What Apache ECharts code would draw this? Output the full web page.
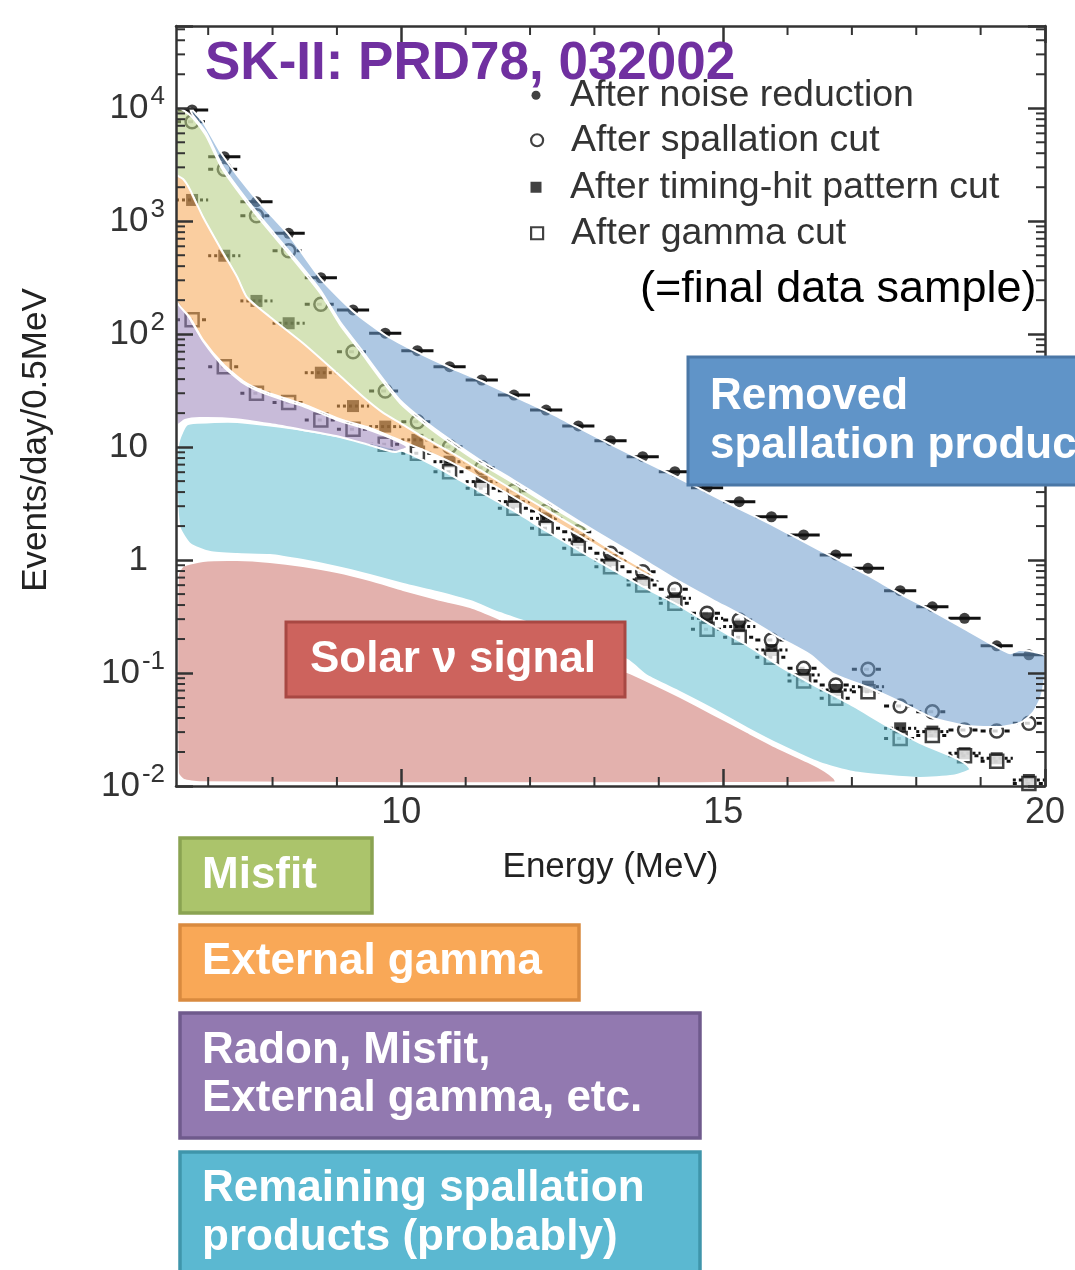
<!DOCTYPE html>
<html><head><meta charset="utf-8">
<script src="https://cdn.jsdelivr.net/npm/echarts@6/dist/echarts.min.js"></script>
<style>html,body{margin:0;padding:0;background:#fff;}#c{width:1075px;height:1270px;}</style>
</head><body><div id="c"></div>
<script>
// ---------- data ----------
const energies = [6.75,7.25,7.75,8.25,8.75,9.25,9.75,10.25,10.75,11.25,11.75,12.25,12.75,13.25,13.75,14.25,14.75,15.25,15.75,16.25,16.75,17.25,17.75,18.25,18.75,19.25,19.75];
const binHalfWidth = 0.25;
const noiseReduction = [9660,3730,1490,782,316,164,102,71.4,51.5,39.3,28.9,21.3,15.4,11.4,8.23,6.06,4.38,3.29,2.42,1.67,1.11,0.845,0.536,0.386,0.305,0.174,0.145];
const spallationCut = [7600,2884,1120,548,184,70,31.4,16.8,10.1,6.58,4.11,2.72,1.78,1.15,0.789,0.551,0.338,0.295,0.196,0.110,0.0783,0.108,0.051,0.0455,0.0313,0.0307,0.0359];
const timingHitCut = [1543,495,197,125,45.6,23.1,15.2,11.6,7.43,4.95,3.29,2.34,1.51,1.0,0.667,0.459,0.305,0.258,0.16,0.0962,0.0708,0.0757,0.0324,0.0303,0.0195,0.0176,0.0113];
const gammaCut = [134,51.5,30,24.8,17.4,14.4,10.6,8.83,6.07,4.32,2.87,1.91,1.27,0.875,0.603,0.414,0.244,0.207,0.138,0.085,0.0597,0.0684,0.0264,0.028,0.0185,0.0166,0.0105];

const xTickLabels = [10,15,20];
const xMinorTicks = [7,8,9,11,12,13,14,16,17,18,19];
const yMinorTicks = [0.02,0.03,0.04,0.05,0.06,0.07,0.08,0.09,0.2,0.3,0.4,0.5,0.6,0.7,0.8,0.9,2,3,4,5,6,7,8,9,20,30,40,50,60,70,80,90,200,300,400,500,600,700,800,900,2000,3000,4000,5000,6000,7000,8000,9000,20000,30000,40000,50000];

// hand-drawn background regions, [energy, events] outlines
const bandRemovedSpallation = [[6.72,10060],[6.92,7570],[7.23,3780],[7.76,1540],[8.24,771],[8.74,314],[9.25,160],[9.75,98.4],[10.24,69.6],[10.74,51.2],[11.25,38.5],[11.74,28.4],[12.25,20.9],[12.73,15.1],[13.24,10.7],[13.74,7.69],[14.25,5.55],[14.73,4.01],[15.23,2.89],[15.73,2.09],[16.23,1.48],[16.74,1.04],[17.24,0.738],[17.73,0.511],[18.23,0.361],[18.73,0.25],[19.22,0.174],[19.46,0.15],[19.61,0.16],[19.92,0.15],[20.0,0.142],[20.0,0.0961],[19.94,0.0614],[19.81,0.0443],[19.61,0.0361],[19.30,0.0333],[18.79,0.034],[18.26,0.04],[17.75,0.0554],[17.24,0.0752],[16.71,0.0982],[16.35,0.145],[15.88,0.204],[15.37,0.307],[14.84,0.443],[14.33,0.64],[13.82,0.962],[13.29,1.45],[12.78,2.17],[12.26,3.34],[11.74,5.12],[11.22,7.69],[10.76,11.6],[10.34,17.4],[9.98,26.1],[9.67,43.5],[9.36,75.4],[9.05,128],[8.74,246],[8.24,557],[7.76,1183],[7.23,3023],[6.97,6046],[6.75,8905]];
const bandMisfit = [[6.52,10060],[6.75,8375],[6.97,5685],[7.23,2843],[7.76,1113],[8.24,524],[8.74,232],[9.05,121],[9.36,71.0],[9.67,40.9],[9.98,24.6],[10.34,16.4],[10.76,10.9],[11.22,7.24],[11.74,4.82],[12.26,3.14],[12.78,2.09],[12.93,1.85],[12.78,1.81],[12.26,2.72],[11.74,4.09],[11.22,6.15],[10.76,8.87],[10.34,12.0],[9.98,16.0],[9.72,19.7],[9.41,27.2],[9.00,44.4],[8.47,81.9],[7.96,139],[7.60,209],[7.45,314],[7.18,580],[6.92,1069],[6.72,1853],[6.61,2318],[6.52,2516]];
const bandExternalGamma = [[6.50,2516],[6.61,2366],[6.72,1891],[6.92,1090],[7.18,592],[7.45,321],[7.60,213],[7.96,142],[8.47,83.6],[9.00,45.3],[9.41,27.8],[9.72,20.1],[9.98,16.4],[10.34,12.3],[10.76,9.06],[11.22,6.28],[11.74,4.17],[12.26,2.78],[12.78,1.85],[13.29,1.20],[13.79,0.818],[14.02,0.666],[13.79,0.753],[13.29,1.09],[12.78,1.63],[12.26,2.41],[11.74,3.62],[11.22,5.33],[10.76,7.39],[10.34,9.43],[9.90,12.0],[9.51,14.8],[9.05,17.7],[8.47,24.1],[8.22,26.7],[7.85,31.4],[7.54,38.5],[7.23,54.5],[6.92,88.8],[6.72,139],[6.50,201]];
const bandRadon = [[6.52,201],[6.72,136],[6.92,87.1],[7.23,52.3],[7.54,37.0],[7.85,30.2],[8.22,25.6],[8.47,23.1],[9.05,17.0],[9.51,14.2],[9.90,11.6],[10.09,10.0],[9.90,9.06],[9.51,10.4],[9.05,12.3],[8.47,14.2],[7.96,16.0],[7.43,17.7],[6.87,18.1],[6.64,17.4],[6.52,15.7]];
const bandRemainingSpallation = [[6.52,8.52],[6.55,11.6],[6.66,15.7],[6.83,16.4],[7.45,16.7],[8.47,14.2],[9.51,10.9],[10.03,9.24],[10.55,6.67],[11.07,4.53],[11.74,2.75],[12.26,1.80],[12.78,1.20],[13.29,0.818],[13.82,0.555],[14.33,0.392],[14.84,0.261],[15.37,0.177],[15.88,0.115],[16.35,0.0816],[17.02,0.0511],[17.55,0.034],[18.06,0.024],[18.57,0.0181],[18.77,0.0157],[18.84,0.0139],[18.57,0.0123],[18.06,0.0118],[17.55,0.0123],[17.02,0.0133],[16.50,0.016],[15.88,0.0231],[15.37,0.0326],[14.84,0.048],[14.33,0.0679],[13.82,0.0942],[13.51,0.1305],[12.47,0.222],[11.53,0.34],[11.07,0.434],[10.55,0.522],[10.03,0.614],[9.51,0.738],[9.00,0.869],[8.47,1.00],[7.96,1.11],[7.45,1.13],[7.03,1.18],[6.72,1.39],[6.56,1.92],[6.52,3.40]];
const bandSolar = [[6.53,0.738],[6.61,0.887],[6.92,0.982],[7.45,1.00],[7.96,0.962],[8.47,0.887],[9.00,0.785],[9.51,0.666],[10.03,0.544],[10.55,0.452],[11.07,0.384],[11.53,0.301],[12.47,0.174],[13.51,0.102],[13.82,0.085],[14.33,0.0614],[14.84,0.0434],[15.37,0.0301],[15.88,0.0213],[16.35,0.016],[16.58,0.0136],[16.72,0.0118],[16.75,0.0108],[14.64,0.0106],[9.98,0.0106],[6.87,0.0108],[6.62,0.0113],[6.53,0.013]];

// ---------- chart ----------
const FONT = '"Liberation Sans", Arial, Helvetica, sans-serif';
const AX = '#333';

function pairs(vals){ return energies.map((e,i)=>[e, vals[i]]); }

function bandSeries(pts, color){
  return {
    type:'custom', coordinateSystem:'cartesian2d', xAxisIndex:0, yAxisIndex:0,
    data:[pts[0]], clip:true, silent:true, z:4,
    renderItem:function(params, api){
      const points = pts.map(p=>api.coord(p));
      return {type:'polygon', shape:{points:points, smooth:0.2}, style:{fill:color, stroke:'#fff', lineWidth:2}};
    }
  };
}

function errorBarSeries(vals, dash){
  return {
    type:'custom', coordinateSystem:'cartesian2d', xAxisIndex:0, yAxisIndex:0,
    data:pairs(vals), clip:true, silent:true, z:2,
    renderItem:function(params, api){
      const e = api.value(0), v = api.value(1);
      const a = api.coord([e - binHalfWidth, v]), b = api.coord([e + binHalfWidth, v]);
      return {type:'line', shape:{x1:a[0], y1:a[1], x2:b[0], y2:b[1]},
        style:{stroke:'#111', lineWidth:3, lineDash:dash}};
    }
  };
}

const yLabelFormatter = function(v){
  const l = Math.log10(v), e = Math.round(l);
  if (Math.abs(l - e) > 1e-6) return '';
  if (e === 0) return '{b|1}{p|}';
  if (e === 1) return '{b|10}{p|}';
  return '{b|10}{s|' + e + '}';
};
const yLabelRich = {
  b:{fontSize:35, color:AX, fontFamily:FONT},
  s:{fontSize:26, color:AX, fontFamily:FONT, padding:[0,0,22,2]},
  p:{width:17}
};

function makeLegend(name, icon, style, size, centerY){
  return {
    orient:'vertical', left:536 - size/2, top:centerY - 18.75, itemWidth:size, itemHeight:size,
    padding:0, selectedMode:false,
    formatter:function(n){ return '{g|}' + n; },
    textStyle:{fontSize:37.5, color:'#333', fontFamily:FONT, rich:{g:{width:29 - size/2}}},
    data:[{name:name, icon:icon, itemStyle:style}]
  };
}

const option = {
  animation:false,
  backgroundColor:'#fff',
  title:{text:'SK-II: PRD78, 032002', left:205, top:38, padding:0, z:10,
    textStyle:{fontSize:53, fontWeight:'bold', color:'#7030A0', fontFamily:FONT}},
  legend:[
    makeLegend('After noise reduction', 'circle', {color:'#111'}, 9, 95),
    makeLegend('After spallation cut', 'circle', {color:'#fff', borderColor:'#111', borderWidth:2.2}, 12, 140),
    makeLegend('After timing-hit pattern cut', 'rect', {color:'#111'}, 11, 187),
    makeLegend('After gamma cut', 'rect', {color:'#fff', borderColor:'#111', borderWidth:2.2}, 12, 233)
  ],
  grid:{left:176, right:30, top:26, bottom:484, show:false},
  xAxis:[
    {type:'value', min:6.5, max:20, position:'bottom', z:10,
      axisLine:{show:true, onZero:false, lineStyle:{color:AX, width:2.5}},
      axisTick:{show:true, inside:true, length:17, customValues:xTickLabels, lineStyle:{color:AX, width:2.5}},
      axisLabel:{customValues:xTickLabels, margin:9, fontSize:36, color:AX, fontFamily:FONT},
      splitLine:{show:false},
      name:'Energy (MeV)', nameLocation:'middle', nameGap:64,
      nameTextStyle:{fontSize:35, color:'#222', fontFamily:FONT}},
    {type:'value', min:6.5, max:20, position:'top', z:10,
      axisLine:{show:true, onZero:false, lineStyle:{color:AX, width:2.5}},
      axisTick:{show:true, inside:true, length:17, customValues:xTickLabels, lineStyle:{color:AX, width:2.5}},
      axisLabel:{show:false}, splitLine:{show:false}}
  ],
  yAxis:[
    {type:'log', logBase:10, min:0.01, max:53500, position:'left', z:10,
      axisLine:{show:true, onZero:false, lineStyle:{color:AX, width:2.5}},
      axisTick:{show:true, inside:true, length:17, lineStyle:{color:AX, width:2.5}},
      axisLabel:{formatter:yLabelFormatter, rich:yLabelRich, margin:11},
      splitLine:{show:false}, minorTick:{show:false},
      name:'Events/day/0.5MeV', nameLocation:'middle', nameGap:122,
      nameTextStyle:{fontSize:35, color:'#222', fontFamily:FONT, padding:[0,68,0,0]}},
    {type:'log', logBase:10, min:0.01, max:53500, position:'right', z:10,
      axisLine:{show:true, onZero:false, lineStyle:{color:AX, width:2.5}},
      axisTick:{show:true, inside:true, length:17, lineStyle:{color:AX, width:2.5}},
      axisLabel:{show:false}, splitLine:{show:false}}
  ],
  series:[
    errorBarSeries(noiseReduction, null),
    errorBarSeries(spallationCut, [5,7]),
    errorBarSeries(timingHitCut, [3,3]),
    errorBarSeries(gammaCut, [4,9]),
    {name:'After noise reduction', type:'scatter', data:pairs(noiseReduction), symbol:'circle', symbolSize:11, z:3,
      itemStyle:{color:'#111'}},
    {name:'After spallation cut', type:'scatter', data:pairs(spallationCut), symbol:'circle', symbolSize:13, z:3,
      itemStyle:{color:'#fff', borderColor:'#111', borderWidth:2.5}},
    {name:'After timing-hit pattern cut', type:'scatter', data:pairs(timingHitCut), symbol:'rect', symbolSize:12, z:3,
      itemStyle:{color:'#111'}},
    {name:'After gamma cut', type:'scatter', data:pairs(gammaCut), symbol:'rect', symbolSize:13, z:3,
      itemStyle:{color:'#fff', borderColor:'#111', borderWidth:2.5}},
    bandSeries(bandSolar, 'rgba(204,113,106,0.55)'),
    bandSeries(bandRemainingSpallation, 'rgba(100,191,210,0.55)'),
    bandSeries(bandRadon, 'rgba(155,131,186,0.55)'),
    bandSeries(bandRemovedSpallation, 'rgba(108,155,204,0.55)'),
    bandSeries(bandMisfit, 'rgba(179,204,126,0.55)'),
    bandSeries(bandExternalGamma, 'rgba(246,166,82,0.55)'),
    {type:'custom', coordinateSystem:'cartesian2d', xAxisIndex:0, yAxisIndex:0, z:12, silent:true, clip:false,
      data:yMinorTicks.map(v=>[6.5, v]),
      renderItem:function(params, api){
        const p = api.coord([api.value(0), api.value(1)]);
        const cs = params.coordSys;
        return {type:'group', children:[
          {type:'line', shape:{x1:cs.x, y1:p[1], x2:cs.x+9, y2:p[1]}, style:{stroke:AX, lineWidth:2}},
          {type:'line', shape:{x1:cs.x+cs.width-9, y1:p[1], x2:cs.x+cs.width, y2:p[1]}, style:{stroke:AX, lineWidth:2}}
        ]};
      }},
    {type:'custom', coordinateSystem:'cartesian2d', xAxisIndex:0, yAxisIndex:0, z:12, silent:true, clip:false,
      data:xMinorTicks.map(v=>[v, 0.01]),
      renderItem:function(params, api){
        const p = api.coord([api.value(0), api.value(1)]);
        const cs = params.coordSys;
        return {type:'group', children:[
          {type:'line', shape:{x1:p[0], y1:cs.y+cs.height, x2:p[0], y2:cs.y+cs.height-9}, style:{stroke:AX, lineWidth:2}},
          {type:'line', shape:{x1:p[0], y1:cs.y, x2:p[0], y2:cs.y+9}, style:{stroke:AX, lineWidth:2}}
        ]};
      }}
  ],
  graphic:[
    {type:'text', left:640, top:267, z:20, style:{text:'(=final data sample)', fontSize:45, fill:'#000', fontFamily:FONT}},
    {type:'rect', z:100, shape:{x:688, y:357, width:420, height:128}, style:{fill:'#6094C8', stroke:'#4A77A6', lineWidth:3}},
    {type:'text', z:101, x:710, y:421.5, style:{text:'Removed\nspallation products', fill:'#fff', fontSize:44, fontWeight:'bold', fontFamily:FONT, lineHeight:49, verticalAlign:'middle', align:'left'}},
    {type:'rect', z:100, shape:{x:286, y:622, width:339, height:75}, style:{fill:'#CD635D', stroke:'#A84843', lineWidth:3}},
    {type:'text', z:101, x:453, y:660, style:{text:'Solar ν signal', fill:'#fff', fontSize:44, fontWeight:'bold', fontFamily:FONT, verticalAlign:'middle', align:'center'}},
    {type:'rect', z:100, shape:{x:180, y:838, width:192, height:75}, style:{fill:'#ABC46B', stroke:'#8AA352', lineWidth:3.5}},
    {type:'text', z:101, x:202, y:876, style:{text:'Misfit', fill:'#fff', fontSize:44, fontWeight:'bold', fontFamily:FONT, verticalAlign:'middle', align:'left'}},
    {type:'rect', z:100, shape:{x:180, y:925, width:399, height:75}, style:{fill:'#F9A857', stroke:'#D98A3F', lineWidth:3.5}},
    {type:'text', z:101, x:202, y:962, style:{text:'External gamma', fill:'#fff', fontSize:44, fontWeight:'bold', fontFamily:FONT, verticalAlign:'middle', align:'left'}},
    {type:'rect', z:100, shape:{x:180, y:1013, width:520, height:125}, style:{fill:'#9279B0', stroke:'#6F5A8C', lineWidth:3.5}},
    {type:'text', z:101, x:202, y:1075, style:{text:'Radon, Misfit,\nExternal gamma, etc.', fill:'#fff', fontSize:44, fontWeight:'bold', fontFamily:FONT, lineHeight:48, verticalAlign:'middle', align:'left'}},
    {type:'rect', z:100, shape:{x:180, y:1152, width:520, height:140}, style:{fill:'#5BB8D1', stroke:'#3F95AB', lineWidth:3.5}},
    {type:'text', z:101, x:202, y:1213.5, style:{text:'Remaining spallation\nproducts (probably)', fill:'#fff', fontSize:44, fontWeight:'bold', fontFamily:FONT, lineHeight:49, verticalAlign:'middle', align:'left'}}
  ]
};

const chart = echarts.init(document.getElementById('c'), null, {renderer:'canvas'});
chart.setOption(option);
</script>
</body></html>
